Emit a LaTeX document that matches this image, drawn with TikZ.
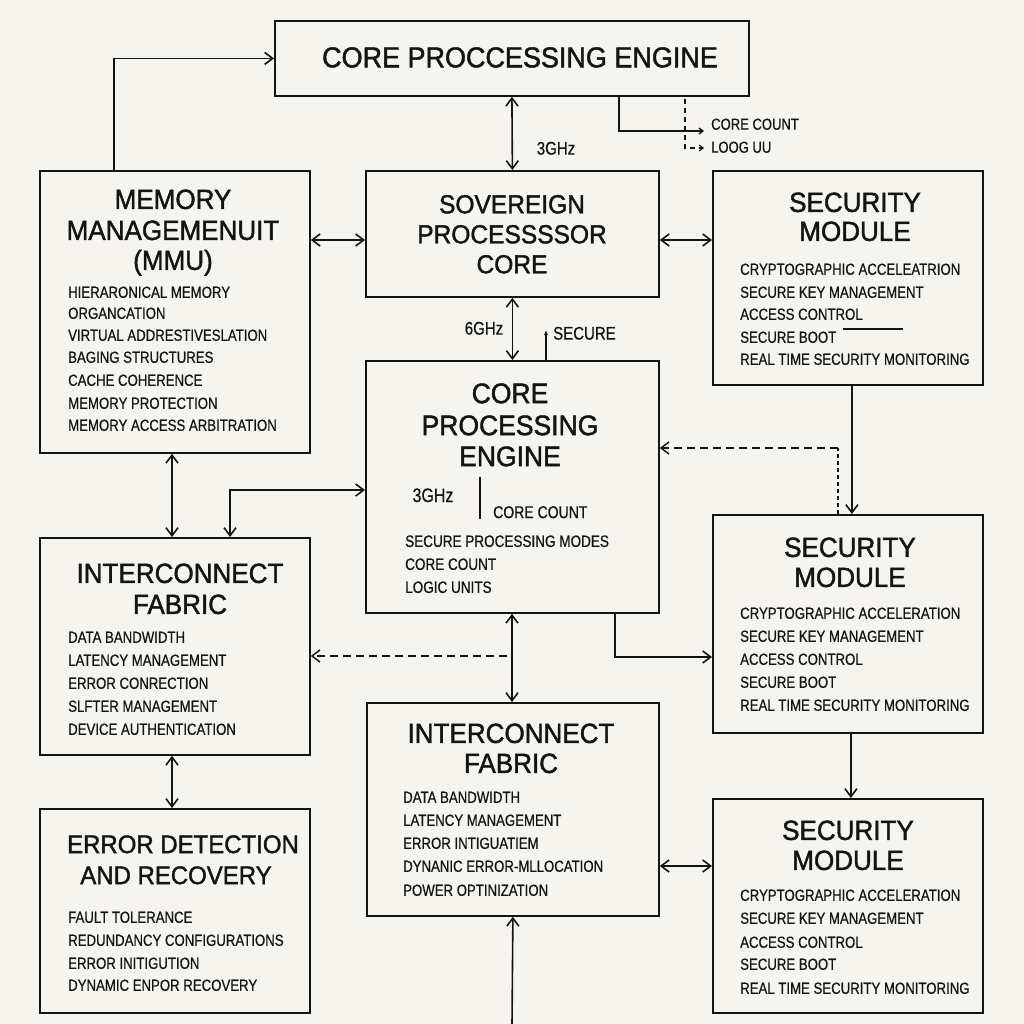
\documentclass[tikz,border=0pt]{standalone}
\usepackage{fontspec}
\setmainfont{Liberation Sans}
\newfontfamily\ttlfont{Liberation Sans}[FakeStretch=0.94,FakeBold=1.5]
\newfontfamily\itmfont{Liberation Sans}[FakeStretch=0.82,FakeBold=0.6]
\usetikzlibrary{arrows.meta,calc}
\definecolor{paper}{HTML}{F6F4EF}
\definecolor{ink}{HTML}{141414}
\newcommand\myitem[4]{\node[itm] (#1) at (#2,#3) {#4};}
\newcommand\mytitle[5]{\node[ttl=#4] (#1) at (#2,#3) {#5};}
\begin{document}
\begin{tikzpicture}[x=1pt,y=-1pt,
  box/.style={draw=ink,line width=1.8pt,inner sep=0pt,anchor=north west},
  ttl/.style={inner sep=0pt,anchor=base,text=ink,font=\ttlfont\fontsize{#1}{#1}\selectfont},
  itm/.style={inner sep=0pt,anchor=base west,text=ink,font=\itmfont\fontsize{16.1}{17}\selectfont},
  lbl/.style={inner sep=0pt,text=ink,font=\itmfont\fontsize{#1}{#1}\selectfont},
  conn/.style={draw=ink,line width=1.6pt},
  dsh/.style={dash pattern=on 8pt off 5pt},
  >={Straight Barb[length=8pt,width=12pt]},
  sm/.style={-{Straight Barb[length=4pt,width=6pt]}},
  smf/.style={-{Latex[length=5pt,width=4pt]}}]
\useasboundingbox[fill=paper] (0,0) rectangle (1024,1024);

% boxes
\node[box,minimum width=474pt,minimum height=75pt] (top) at (274,20) {};
\node[box,minimum width=293pt,minimum height=126pt] (sov) at (365,170) {};
\node[box,minimum width=270pt,minimum height=282pt] (mmu) at (39,170) {};
\node[box,minimum width=270pt,minimum height=214pt] (sec1) at (712,170) {};
\node[box,minimum width=293pt,minimum height=252pt] (cpe) at (365,360) {};
\node[box,minimum width=270pt,minimum height=217pt] (ifl) at (39,537) {};
\node[box,minimum width=270pt,minimum height=218pt] (sec2) at (712,514) {};
\node[box,minimum width=292pt,minimum height=213pt] (ifc) at (366,702) {};
\node[box,minimum width=270pt,minimum height=214pt] (sec3) at (712,798) {};
\node[box,minimum width=270pt,minimum height=204pt] (err) at (39,808) {};

% titles
\mytitle{topt}{520}{67.3}{28.7}{CORE PROCCESSING ENGINE}
\mytitle{sovt1}{512}{213.3}{26.1}{SOVEREIGN}
\mytitle{sovt2}{512}{243.3}{26.1}{PROCESSSSOR}
\mytitle{sovt3}{512}{273.3}{26.1}{CORE}
\mytitle{mmut1}{173}{208.9}{27.7}{MEMORY}
\mytitle{mmut2}{173}{239.9}{27.7}{MANAGEMENUIT}
\mytitle{mmut3}{173}{269.9}{27.7}{(MMU)}
\mytitle{s1t1}{855}{211.9}{27.7}{SECURITY}
\mytitle{s1t2}{855}{240.9}{27.7}{MODULE}
\mytitle{cpet1}{510}{403.1}{28.2}{CORE}
\mytitle{cpet2}{510}{435.1}{28.2}{PROCESSING}
\mytitle{cpet3}{510}{466.1}{28.2}{ENGINE}
\mytitle{iflt1}{180}{582.9}{27.7}{INTERCONNECT}
\mytitle{iflt2}{180}{613.9}{27.7}{FABRIC}
\mytitle{s2t1}{850}{556.9}{27.7}{SECURITY}
\mytitle{s2t2}{850}{586.9}{27.7}{MODULE}
\mytitle{ifct1}{511}{742.9}{27.7}{INTERCONNECT}
\mytitle{ifct2}{511}{772.9}{27.7}{FABRIC}
\mytitle{s3t1}{848}{839.9}{27.7}{SECURITY}
\mytitle{s3t2}{848}{869.9}{27.7}{MODULE}
\mytitle{errt1}{183}{853.1}{25.5}{ERROR DETECTION}
\mytitle{errt2}{176}{884.1}{25.5}{AND RECOVERY}

% items
\myitem{m1}{68}{297.8}{HIERARONICAL MEMORY}
\myitem{m2}{68}{318.8}{ORGANCATION}
\myitem{m3}{68}{340.8}{VIRTUAL ADDRESTIVESLATION}
\myitem{m4}{68}{362.8}{BAGING STRUCTURES}
\myitem{m5}{68}{385.8}{CACHE COHERENCE}
\myitem{m6}{68}{408.8}{MEMORY PROTECTION}
\myitem{m7}{68}{430.8}{MEMORY ACCESS ARBITRATION}

\myitem{a1}{740}{274.8}{CRYPTOGRAPHIC ACCELEATRION}
\myitem{a2}{740}{297.8}{SECURE KEY MANAGEMENT}
\myitem{a3}{740}{319.8}{ACCESS CONTROL}
\myitem{a4}{740}{342.8}{SECURE BOOT}
\myitem{a5}{740}{364.8}{REAL TIME SECURITY MONITORING}

\myitem{b1}{740}{618.8}{CRYPTOGRAPHIC ACCELERATION}
\myitem{b2}{740}{641.8}{SECURE KEY MANAGEMENT}
\myitem{b3}{740}{664.8}{ACCESS CONTROL}
\myitem{b4}{740}{687.8}{SECURE BOOT}
\myitem{b5}{740}{710.8}{REAL TIME SECURITY MONITORING}

\myitem{c1}{740}{900.8}{CRYPTOGRAPHIC ACCELERATION}
\myitem{c2}{740}{923.8}{SECURE KEY MANAGEMENT}
\myitem{c3}{740}{947.8}{ACCESS CONTROL}
\myitem{c4}{740}{969.8}{SECURE BOOT}
\myitem{c5}{740}{993.8}{REAL TIME SECURITY MONITORING}

\myitem{f1}{68}{642.8}{DATA BANDWIDTH}
\myitem{f2}{68}{665.8}{LATENCY MANAGEMENT}
\myitem{f3}{68}{688.8}{ERROR CONRECTION}
\myitem{f4}{68}{711.8}{SLFTER MANAGEMENT}
\myitem{f5}{68}{734.8}{DEVICE AUTHENTICATION}

\myitem{g1}{403}{802.8}{DATA BANDWIDTH}
\myitem{g2}{403}{825.8}{LATENCY MANAGEMENT}
\myitem{g3}{403}{848.8}{ERROR INTIGUATIEM}
\myitem{g4}{403}{871.8}{DYNANIC ERROR-MLLOCATION}
\myitem{g5}{403}{895.8}{POWER OPTINIZATION}

\myitem{e1}{68}{922.8}{FAULT TOLERANCE}
\myitem{e2}{68}{945.8}{REDUNDANCY CONFIGURATIONS}
\myitem{e3}{68}{968.8}{ERROR INITIGUTION}
\myitem{e4}{68}{990.8}{DYNAMIC ENPOR RECOVERY}

\node[lbl=16.5,anchor=base west] (p1) at (405,546.9) {SECURE PROCESSING MODES};
\node[lbl=16.5,anchor=base west] (p2) at (405,569.9) {CORE COUNT};
\node[lbl=16.5,anchor=base west] (p3) at (405,592.9) {LOGIC UNITS};
\node[lbl=19.5,anchor=base] (pg) at (433,502) {3GHz};
\node[lbl=17.1,anchor=base west] (pc) at (493,518.1) {CORE COUNT};

% small labels
\node[lbl=18.3,anchor=base] (l3g) at (556,154.6) {3GHz};
\node[lbl=18.3,anchor=base] (l6g) at (484,334.6) {6GHz};
\node[lbl=18.3,anchor=base west] (lsec) at (553,339.6) {SECURE};
\node[lbl=15.9,anchor=base west] (lcc) at (711,129.7) {CORE COUNT};
\node[lbl=15.9,anchor=base west] (llg) at (711,152.7) {LOOG UU};

% connectors
\draw[conn,->] ($(mmu.north west)+(75,0)$) |- (top.west);
\draw[conn,<->] (top.south) -- (sov.north);
\coordinate (cc1) at (704,131);
\draw[conn,line width=1.3pt,sm] ($(top.south west)+(345,0)$) |- (cc1);
\coordinate (cc2) at (704,148);
\draw[conn,line width=1.1pt,dash pattern=on 5pt off 4pt,sm] ($(top.south west)+(411,2)$) |- (cc2);
\draw[conn,<->] ($(mmu.north east)+(0,70)$) -- ($(sov.north west)+(0,70)$);
\draw[conn,<->] ($(sov.north east)+(0,70)$) -- ($(sec1.north west)+(0,70)$);
\draw[conn,<->] (sov.south) -- (cpe.north);
\coordinate (sec) at (546,330);
\draw[conn,line width=1.2pt,smf] ($(cpe.north west)+(181,0)$) -- (sec);
\draw[conn,->] ($(sec1.south)+(4,0)$) -- ($(sec2.north)+(4,0)$);
\coordinate (dc) at (838,448);
\draw[conn,line width=1.4pt,dash pattern=on 4pt off 3pt] ($(sec2.north west)+(126,0)$) -- (dc);
\draw[conn,line width=1.4pt,dsh,->] (dc) -- (cpe.east |- dc);
\draw[conn,<->] ($(ifl.north west)+(191,0)$) |- ($(cpe.north west)+(0,130)$);
\draw[conn,<->] ($(mmu.south west)+(133,0)$) -- ($(ifl.north west)+(133,0)$);
\coordinate (dl) at (507,656);
\draw[conn,line width=1.4pt,dsh,->] (dl) -- (ifl.east |- dl);
\draw[conn,<->] ($(cpe.south west)+(147,0)$) -- ($(ifc.north west)+(146,0)$);
\draw[conn,->] ($(cpe.south west)+(250,0)$) |- ($(sec2.north west)+(0,143)$);
\draw[conn,->] ($(sec2.south)+(3,0)$) -- ($(sec3.north)+(3,0)$);
\draw[conn,<->] ($(ifc.north east)+(0,164)$) -- ($(sec3.north west)+(0,68)$);
\coordinate (bot) at (512,1024);
\draw[conn,->] (bot) -- (ifc.south);
\draw[conn,<->] ($(ifl.south west)+(133,0)$) -- ($(err.north west)+(133,0)$);
\coordinate (sl1) at (843,329);
\coordinate (sl2) at (903,329);
\draw[conn,line width=1.2pt] (sl1) -- (sl2);
\coordinate (vb1) at (480,477);
\coordinate (vb2) at (480,519);
\draw[conn] (vb1) -- (vb2);
\end{tikzpicture}
\end{document}
